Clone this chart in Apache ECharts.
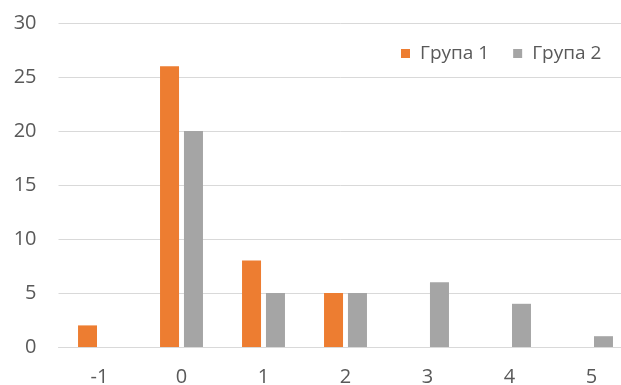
<!DOCTYPE html>
<html>
<head>
<meta charset="utf-8">
<script src="https://cdn.jsdelivr.net/npm/echarts@6/dist/echarts.min.js"></script>
<style>
  html, body { margin: 0; padding: 0; background: #fff; overflow: hidden; }
  #chart { width: 621px; height: 385px; }
</style>
</head>
<body>
<div id="chart"></div>
<script>
// Categories along the x axis
const categories = ['-1', '0', '1', '2', '3', '4', '5'];
// Counts for each group
const group1 = [2, 26, 8, 5, 0, 0, 0];
const group2 = [0, 20, 5, 5, 6, 4, 1];
const seriesNames = ['Група 1', 'Група 2'];

const FONT = '"Open Sans", "Noto Sans", sans-serif';
const TEXT = '#595959';

const chart = echarts.init(document.getElementById('chart'), null, { renderer: 'canvas' });
chart.setOption({
  animation: false,
  backgroundColor: '#ffffff',
  // plot area runs a little past the right edge of the canvas
  grid: { left: 58.5, width: 574, top: 23, height: 324, outerBoundsMode: 'none', containLabel: false },
  legend: {
    left: 396,
    top: 39,
    icon: 'rect',
    itemWidth: 9,
    itemHeight: 9,
    itemGap: 24,
    textStyle: { fontFamily: FONT, fontSize: 19, color: TEXT, padding: [0, 0, 0, 5] },
    data: seriesNames
  },
  xAxis: {
    type: 'category',
    data: categories,
    axisLine: { show: true, lineStyle: { color: '#D9D9D9', width: 1 } },
    axisTick: { show: false },
    axisLabel: { fontFamily: FONT, fontSize: 20, color: TEXT, margin: 20 }
  },
  yAxis: {
    type: 'value',
    min: 0,
    max: 30,
    interval: 5,
    axisLine: { show: false },
    axisTick: { show: false },
    splitLine: { lineStyle: { color: '#D9D9D9', width: 1 } },
    axisLabel: { fontFamily: FONT, fontSize: 20, color: TEXT, margin: 22 }
  },
  series: [
    {
      name: seriesNames[0],
      type: 'bar',
      data: group1,
      barWidth: 19,
      barGap: '26%',
      itemStyle: { color: '#ED7D31' }
    },
    {
      name: seriesNames[1],
      type: 'bar',
      data: group2,
      barWidth: 19,
      barGap: '26%',
      itemStyle: { color: '#A5A5A5' }
    }
  ]
});
</script>
</body>
</html>
